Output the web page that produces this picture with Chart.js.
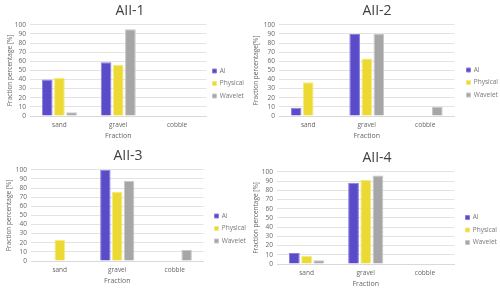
<!DOCTYPE html>
<html>
<head>
<meta charset="utf-8">
<script src="https://cdn.jsdelivr.net/npm/chart.js@4.4.0/dist/chart.umd.min.js"></script>
<style>
  body { margin: 0; background: #fff; }
  #wrap { position: relative; width: 500px; height: 291px; }
  .cell { position: absolute; width: 250px; height: 145px; }
</style>
</head>
<body>
<div id="wrap">
  <div class="cell" style="left:0;top:0"><canvas id="c1"></canvas></div>
  <div class="cell" style="left:250px;top:0"><canvas id="c2"></canvas></div>
  <div class="cell" style="left:0;top:145px"><canvas id="c3"></canvas></div>
  <div class="cell" style="left:250px;top:145px"><canvas id="c4"></canvas></div>
</div>
<script>
const categories = ["sand", "gravel", "cobble"]
const seriesNames = ["AI", "Physical", "Wavelet"]
const titles = ["AII-1", "AII-2", "AII-3", "AII-4"]

// values per chart: [sand, gravel, cobble]
const ai = [
  [40, 59, 0],
  [9, 90, 0],
  [0, 100, 0],
  [12, 88, 0]
]
const physical = [
  [42, 56, 0.5],
  [37, 63, 0],
  [23, 76, 0],
  [9, 91, 0]
]
const wavelet = [
  [4, 95, 0],
  [0, 90, 10],
  [0, 88, 12],
  [4, 96, 0]
]
const yTicks = [0, 10, 20, 30, 40, 50, 60, 70, 80, 90, 100]
const yTitles = ["Fraction percentage [%]", "Fraction percentage[%]", "Fraction percentage [%]", "Fraction percentage [%]"]

const COLORS = ["#5a4bc8", "#ecd934", "#a6a6a6"]
const BORDERS = ["#8a80dc", "#f5ea80", "#c8c8c8"]
const FONT = "'Open Sans', 'Noto Sans', sans-serif"

// per-panel layout tweaks
const PADS = [
  { top: 2, right: -4, left: 6, bottom: 4 },
  { top: 2, right: -2, left: 2, bottom: 4 },
  { top: 2, right: -1, left: 5, bottom: 4 },
  { top: 4, right: -2, left: 2, bottom: 1 }
]
const Y_WIDTH = [24, 27, 26, 25]
const LEGEND_SHIFT = [[0, 12], [6, 11], [5, 12], [5, 11]]

const legendNudge = {
  id: "legendNudge",
  afterLayout(chart) {
    const [dx, dy] = LEGEND_SHIFT[chart.options.panel]
    const lg = chart.legend
    lg.left += dx; lg.right += dx
    lg.top += dy; lg.bottom += dy
  }
}

function makeChart(id, i) {
  const sets = [ai[i], physical[i], wavelet[i]]
  return new Chart(document.getElementById(id), {
    type: "bar",
    plugins: [legendNudge],
    data: {
      labels: categories,
      datasets: sets.map((d, k) => ({
        label: seriesNames[k],
        data: d,
        backgroundColor: COLORS[k],
        borderColor: BORDERS[k],
        borderWidth: 1,
        categoryPercentage: 0.62,
        barPercentage: 0.88
      }))
    },
    options: {
      panel: i,
      responsive: false,
      animation: false,
      devicePixelRatio: 1,
      layout: { padding: PADS[i] },
      plugins: {
        title: {
          display: true,
          text: titles[i],
          color: "#404040",
          font: { family: FONT, size: 14, weight: "normal" },
          padding: { top: 1, bottom: 5 }
        },
        legend: {
          position: "right",
          labels: {
            boxWidth: 4,
            boxHeight: 4,
            padding: 6,
            color: "#777",
            font: { family: FONT, size: 6.5 }
          }
        },
        tooltip: { enabled: false }
      },
      scales: {
        x: {
          afterFit: (s) => { s.height = 25 },
          grid: { display: false, drawTicks: false },
          border: { color: "#d9d9d9" },
          ticks: { color: "#666", font: { family: FONT, size: 6.5 }, padding: 5 },
          title: { display: true, text: "Fraction", color: "#666", font: { family: FONT, size: 7 }, padding: 1 }
        },
        y: {
          min: 0,
          max: 100,
          afterBuildTicks: (s) => { s.ticks = yTicks.map((v) => ({ value: v })) },
          afterFit: (s) => { s.width = Y_WIDTH[i] },
          grid: { color: "#e3e3e3", drawTicks: false },
          border: { display: false },
          ticks: { color: "#666", font: { family: FONT, size: 6.5 }, padding: 4, autoSkip: false },
          title: { display: true, text: yTitles[i], color: "#666", font: { family: FONT, size: 6.5 }, padding: 0 }
        }
      }
    }
  })
}

;["c1", "c2", "c3", "c4"].forEach((id, i) => {
  const el = document.getElementById(id)
  el.width = 250
  el.height = 145
  makeChart(id, i)
})
</script>
</body>
</html>
